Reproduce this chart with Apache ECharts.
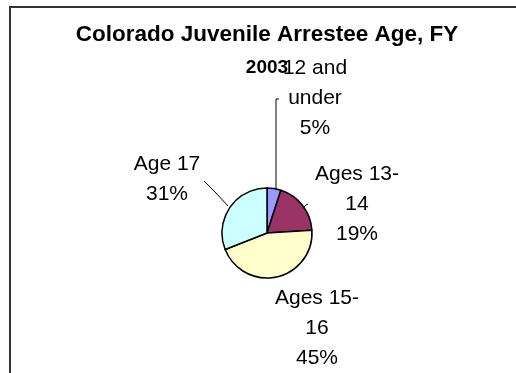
<!DOCTYPE html>
<html>
<head>
<meta charset="utf-8">
<script src="https://cdn.jsdelivr.net/npm/echarts@6/dist/echarts.min.js"></script>
<style>
  html, body { margin: 0; padding: 0; background: #fff; }
  #chart { width: 516px; height: 373px; }
</style>
</head>
<body>
<div id="chart"></div>
<script>
// Age groups and their share of juvenile arrestees (percent)
const categories = ['12 and under', 'Ages 13-14', 'Ages 15-16', 'Age 17'];
const shares = [5, 19, 45, 31];
const sliceColors = ['#9999FF', '#993366', '#FFFFCC', '#CCFFFF'];

// Pie geometry
const CX = 267, CY = 233, R = 45;

// Label block centres, as offsets from the pie centre
const labelOffsets = [[48, -135], [90, -29], [50, 95], [-100, -54]];
// Leader lines (offsets from the pie centre); null = no leader
const leaderOffsets = [
  [[9, -44], [9, -134], [12, -134]],
  [[37, -26], [39, -28], [41, -29]],
  null,
  [[-39, -27], [-51, -40], [-63, -52]]
];

// Break a category name onto two lines the way the labels are set
function wrapName(name) {
  const h = name.lastIndexOf('-');
  if (h > 0) return name.slice(0, h + 1) + '\n' + name.slice(h + 1);
  if (name.length > 8) {
    const s = name.lastIndexOf(' ');
    return name.slice(0, s) + '\n' + name.slice(s + 1);
  }
  return name;
}

const chart = echarts.init(document.getElementById('chart'), null, { renderer: 'canvas' });

chart.setOption({
  animation: false,
  backgroundColor: '#ffffff',
  title: {
    text: '{a|Colorado Juvenile Arrestee Age, FY}\n{b|2003}',
    left: 267,
    top: 18,
    textAlign: 'center',
    padding: 0,
    textStyle: {
      rich: {
        a: { fontFamily: '"Liberation Sans", Arial, sans-serif', fontWeight: 'bold', fontSize: 22.5, lineHeight: 33, color: '#000' },
        b: { fontFamily: '"Liberation Sans", Arial, sans-serif', fontWeight: 'bold', fontSize: 19, lineHeight: 33, color: '#000' }
      }
    }
  },
  graphic: [{
    type: 'rect',
    silent: true,
    shape: { x: 10, y: 7, width: 540, height: 420 },
    style: { fill: null, stroke: '#333333', lineWidth: 2 }
  }],
  series: [{
    type: 'pie',
    center: [CX, CY],
    radius: R,
    startAngle: 90,
    clockwise: true,
    percentPrecision: 0,
    avoidLabelOverlap: false,
    itemStyle: { borderColor: '#000', borderWidth: 1.5 },
    emphasis: { disabled: true },
    label: {
      show: true,
      position: 'outside',
      formatter: p => wrapName(p.name) + '\n' + p.percent + '%',
      fontFamily: '"Liberation Sans", Arial, sans-serif',
      fontSize: 21,
      lineHeight: 30,
      color: '#000'
    },
    labelLine: { show: true, lineStyle: { color: '#000', width: 1 } },
    labelLayout: function (params) {
      const i = params.dataIndex;
      const off = labelOffsets[i];
      const out = {
        x: CX + off[0],
        y: CY + off[1],
        align: 'center',
        verticalAlign: 'middle'
      };
      const lead = leaderOffsets[i];
      if (lead) {
        out.labelLinePoints = lead.map(p => [CX + p[0], CY + p[1]]);
      } else {
        out.labelLinePoints = [[CX, CY], [CX, CY], [CX, CY]];
      }
      return out;
    },
    data: categories.map((name, i) => ({
      name: name,
      value: shares[i],
      itemStyle: { color: sliceColors[i] },
      labelLine: { show: leaderOffsets[i] !== null }
    }))
  }]
});
</script>
</body>
</html>
